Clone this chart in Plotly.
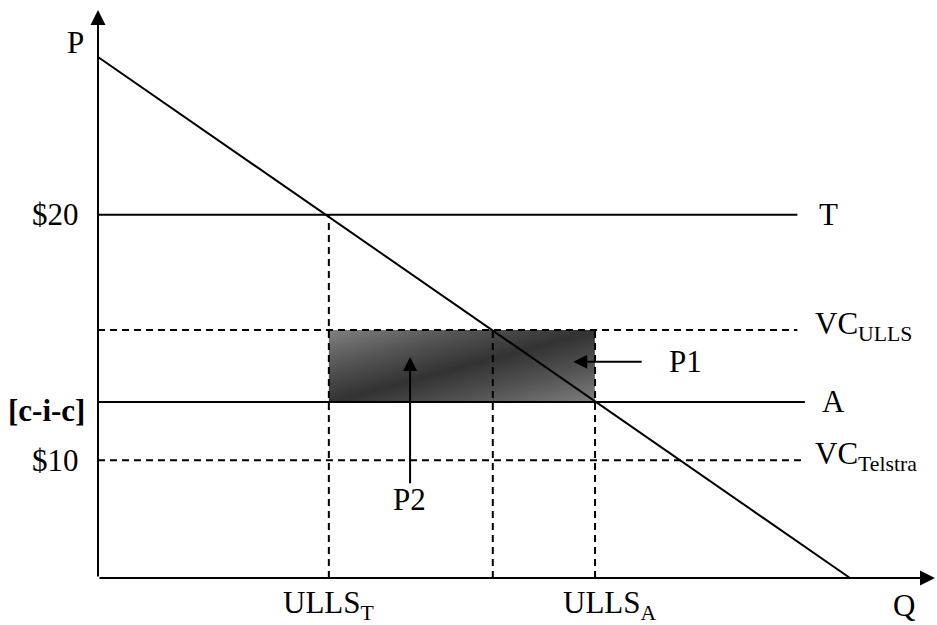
import numpy as np
import plotly.graph_objects as go

# ---- diagram values (schematic units: Q axis 0..100, P axis 0..100) ----
demand_q = [0, 100]
demand_p = [100, 0]

level_names = ["T", "VC_ULLS", "A", "VC_Telstra"]
level_values = [69.7, 47.6, 33.8, 22.6]
level_ends = [93.0, 93.0, 94.0, 93.5]
level_dashed = [False, True, False, True]

q_names = ["ULLS_T", "mid", "ULLS_A"]
q_values = [30.7, 52.5, 66.1]
q_tops = [69.7, 47.6, 47.6]

tick_labels_p = ["$20", "[c-i-c]", "$10"]
tick_levels_p = [69.7, 33.8, 22.6]

axis_top = 109.0
axis_right = 111.3

FONT = "Liberation Serif"
FS = 31

fig = go.Figure()

# shaded area (P1 + P2) between A and VC_ULLS from ULLS_T to ULLS_A
x0, x1 = q_values[0], q_values[2]
y0, y1 = level_values[2], level_values[1]
nx, ny = 80, 30
xe = np.linspace(x0, x1, nx + 1)
ye = np.linspace(y0, y1, ny + 1)
xc = (xe[:-1] + xe[1:]) / 2
yc = (ye[:-1] + ye[1:]) / 2
# shading: dark along the diagonal bottom-left -> top-right (pixel space)
sx, sy = 7.52, 5.21
X, Y = np.meshgrid(xc, yc)
dxp, dyp = (x1 - x0) * sx, (y1 - y0) * sy
px = (X - x0) * sx
py = (Y - y0) * sy
dist = np.abs(px * dyp - py * dxp) / np.hypot(dxp, dyp)
z = dist / dist.max()
fig.add_trace(go.Heatmap(x=xe, y=ye, z=z, zsmooth="best", showscale=False,
                         colorscale=[[0, "#333333"], [0.5, "#555555"], [1, "#7e7e7e"]],
                         hoverinfo="skip"))

# horizontal levels
for v, e, d in zip(level_values, level_ends, level_dashed):
    fig.add_trace(go.Scatter(x=[0, e], y=[v, v], mode="lines",
                             line=dict(color="black", width=2,
                                       dash="7px,5px" if d else "solid"),
                             hoverinfo="skip", showlegend=False))

# vertical dashed lines
for q, t in zip(q_values, q_tops):
    fig.add_trace(go.Scatter(x=[q, q], y=[0, t], mode="lines",
                             line=dict(color="black", width=2, dash="7px,5px"),
                             hoverinfo="skip", showlegend=False))

# demand line
fig.add_trace(go.Scatter(x=demand_q, y=demand_p, mode="lines",
                         line=dict(color="black", width=2),
                         hoverinfo="skip", showlegend=False))

ann = []
# axes with arrows
ann.append(dict(x=0, y=axis_top, ax=0, ay=0, xref="x", yref="y", axref="x", ayref="y",
                showarrow=True, arrowhead=2, arrowwidth=2, arrowsize=1.5, arrowcolor="black", text=""))
ann.append(dict(x=axis_right, y=0, ax=0, ay=0, xref="x", yref="y", axref="x", ayref="y",
                showarrow=True, arrowhead=2, arrowwidth=2, arrowsize=1.5, arrowcolor="black", text=""))

def label(text, x, y, xa="center", ya="middle", bold=False):
    ann.append(dict(x=x, y=y, xref="x", yref="y", text=f"<b>{text}</b>" if bold else text,
                    showarrow=False, xanchor=xa, yanchor=ya,
                    font=dict(family=FONT, size=FS, color="black")))

label("P", -1.6, 102.7, xa="right")
for t, v in zip(tick_labels_p, tick_levels_p):
    label(t, -2.3 if t != "[c-i-c]" else -1.4, v - (1.6 if t == "[c-i-c]" else 0),
          xa="right", bold=(t == "[c-i-c]"))

label("T", 95.6, level_values[0], xa="left")
label("VC<sub>ULLS</sub>", 95.1, level_values[1] + 0.8, xa="left")
label("A", 96.0, level_values[2], xa="left")
label("VC<sub>Telstra</sub>", 95.1, level_values[3] + 0.8, xa="left")

label("ULLS<sub>T</sub>", q_values[0], -5.2)
label("ULLS<sub>A</sub>", q_values[2] + 2.0, -5.2)
label("Q", 107.2, -5.2)

label("P1", 78.1, 41.5)
label("P2", 41.4, 15.0)

# pointer arrows
ann.append(dict(x=63.2, y=41.5, ax=72.5, ay=41.5, xref="x", yref="y", axref="x", ayref="y",
                showarrow=True, arrowhead=2, arrowwidth=2, arrowsize=1.4, arrowcolor="black", text=""))
ann.append(dict(x=41.5, y=42.4, ax=41.5, ay=17.9, xref="x", yref="y", axref="x", ayref="y",
                showarrow=True, arrowhead=2, arrowwidth=2, arrowsize=1.4, arrowcolor="black", text=""))

fig.update_layout(
    width=937, height=625,
    margin=dict(l=0, r=0, t=0, b=0),
    paper_bgcolor="white", plot_bgcolor="white",
    showlegend=False,
    annotations=ann,
    xaxis=dict(range=[-13.03, 111.57], visible=False, fixedrange=True),
    yaxis=dict(range=[-9.02, 110.94], visible=False, fixedrange=True),
)

fig.write_html("out.html", config={"displayModeBar": False, "staticPlot": True},
               post_script="document.body.style.margin='0';document.body.style.overflow='hidden';")
